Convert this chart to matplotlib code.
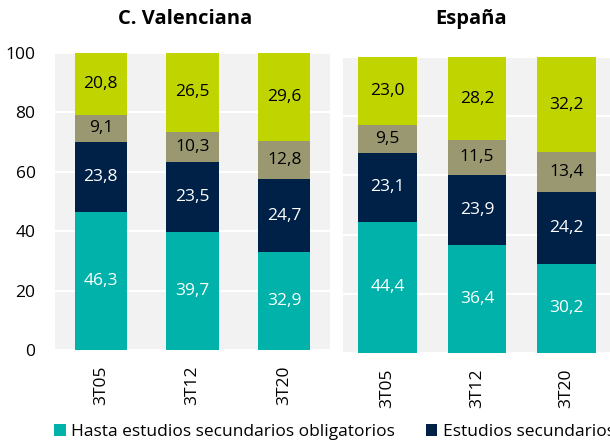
import matplotlib
matplotlib.use('Agg')
import matplotlib.pyplot as plt
import numpy as np

plt.rcParams['font.family'] = ['Open Sans', 'DejaVu Sans']

periodos = ['3T05', '3T12', '3T20']
niveles = ['Hasta estudios secundarios obligatorios',
           'Estudios secundarios postobligatorios',
           'Formación profesional superior',
           'Estudios universitarios']
colores = ['#00b2a9', '#002147', '#9a9870', '#c0d500']
color_texto = ['white', 'white', 'black', 'black']

valenciana = [
    [46.3, 39.7, 32.9],
    [23.8, 23.5, 24.7],
    [9.1, 10.3, 12.8],
    [20.8, 26.5, 29.6],
]
espana = [
    [44.4, 36.4, 30.2],
    [23.1, 23.9, 24.2],
    [9.5, 11.5, 13.4],
    [23.0, 28.2, 32.2],
]

fig = plt.figure(figsize=(6.1, 4.44), dpi=100)
ax1 = fig.add_axes([0.0902, 0.2117, 0.4508, 0.6689])
ax2 = fig.add_axes([0.5623, 0.2050, 0.4393, 0.6666])


def dibujar(ax, datos, ancho, con_y):
    x = np.arange(len(periodos))
    base = np.zeros(len(periodos))
    barras = []
    for i, serie in enumerate(datos):
        b = ax.bar(x, serie, ancho, bottom=base, color=colores[i], label=niveles[i], zorder=3)
        for xi, v, b0 in zip(x, serie, base):
            ax.text(xi, b0 + v / 2, f'{v:.1f}'.replace('.', ','), ha='center', va='center',
                    color=color_texto[i], fontsize=12.5, zorder=4)
        base = base + np.array(serie)
        barras.append(b)
    ax.set_facecolor('#f2f2f2')
    ax.set_xlim(-0.5, 2.5)
    ax.set_ylim(0, 100)
    ax.set_yticks([0, 20, 40, 60, 80, 100])
    ax.grid(axis='y', color='white', linewidth=1.5, zorder=1)
    for s in ax.spines.values():
        s.set_visible(False)
    ax.set_xticks(x)
    ax.set_xticklabels(periodos, rotation=90, fontsize=12.5)
    ax.tick_params(axis='x', length=0, pad=11)
    ax.tick_params(axis='y', length=0, pad=14, labelsize=12.5)
    if not con_y:
        ax.set_yticklabels([])
    return barras


barras = dibujar(ax1, valenciana, 0.57, True)
dibujar(ax2, espana, 0.66, False)

fig.text(185 / 610, 1 - 19 / 444, 'C. Valenciana', ha='center', va='center',
         fontsize=14.5, fontweight='bold')
fig.text(471 / 610, 1 - 19 / 444, 'España', ha='center', va='center',
         fontsize=14.5, fontweight='bold')

fig.legend(barras, niveles, loc='center left', bbox_to_anchor=(0.0893, 0.027), ncol=4,
           frameon=False, fontsize=12.5, handlelength=0.65, handleheight=0.65,
           handletextpad=0.3, columnspacing=1.8, borderaxespad=0, borderpad=0)

fig.savefig('out.png', dpi=100)
